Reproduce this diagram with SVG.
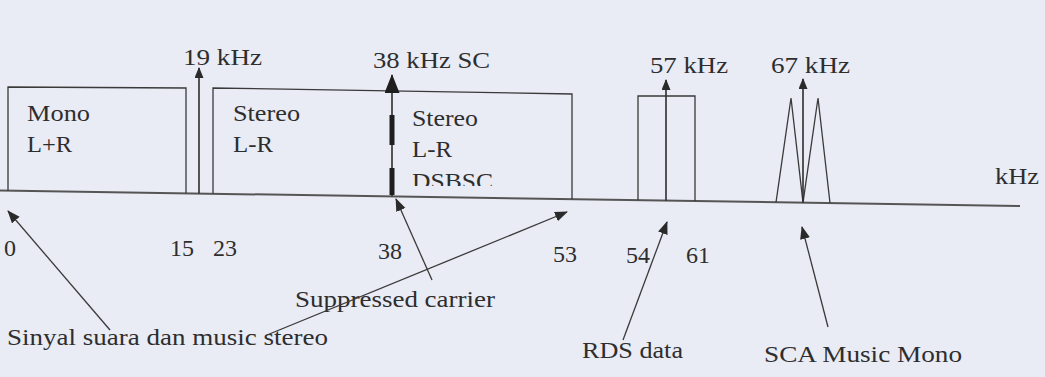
<svg xmlns="http://www.w3.org/2000/svg" width="1045" height="377" viewBox="0 0 1045 377" font-family="'Liberation Serif', 'Times New Roman', 'DejaVu Serif', serif" font-size="24">
<style>
.t{font-family:'Liberation Serif','Times New Roman','DejaVu Serif',serif;font-size:24px;fill:#2e2e2e}
.ln{stroke:#3a3a3a;stroke-width:1.3;fill:none}
.ax{stroke:#555;stroke-width:2;fill:none}
.spk{stroke:#2e2e2e;stroke-width:1.6;fill:none}
.ptr{stroke:#3a3a3a;stroke-width:1.3;fill:none;marker-end:url(#ah)}
</style>
<defs>
<marker id="ah" markerUnits="userSpaceOnUse" markerWidth="14" markerHeight="12" refX="12" refY="5" orient="auto">
<path d="M0,0 L13,5 L0,10 Z" fill="#2a2a2a"/>
</marker>
<marker id="ahs" markerUnits="userSpaceOnUse" markerWidth="12" markerHeight="10" refX="10" refY="4.5" orient="auto">
<path d="M0,0 L11,4.5 L0,9 Z" fill="#2a2a2a"/>
</marker>
<marker id="ahb" markerUnits="userSpaceOnUse" markerWidth="20" markerHeight="16" refX="18" refY="7.5" orient="auto">
<path d="M0,0 L19,7.5 L0,15 Z" fill="#1e1e1e"/>
</marker>
<clipPath id="cut"><rect x="400" y="160" width="120" height="26"/></clipPath>
</defs>
<rect width="1045" height="377" fill="#e9ebf5"/>

<g id="axis">
<line class="ax" x1="0" y1="190.5" x2="1020" y2="206"/>
<text class="t" x="995" y="184" textLength="44" lengthAdjust="spacingAndGlyphs">kHz</text>
</g>

<g id="mono">
<polyline class="ln" points="8,190.6 8,87 186,88 186,193.3"/>
<text class="t" x="27" y="121" textLength="63" lengthAdjust="spacingAndGlyphs">Mono</text>
<text class="t" x="27" y="152" textLength="45" lengthAdjust="spacingAndGlyphs">L+R</text>
</g>

<g id="pilot19">
<line class="spk" x1="199" y1="193.5" x2="199" y2="68" marker-end="url(#ahs)"/>
<text class="t" x="183" y="65" textLength="79" lengthAdjust="spacingAndGlyphs">19 kHz</text>
</g>

<g id="stereo">
<polyline class="ln" points="213,193.7 213,88 572,94 572,199.2"/>
<text class="t" x="233" y="121" textLength="67" lengthAdjust="spacingAndGlyphs">Stereo</text>
<text class="t" x="233" y="152" textLength="40" lengthAdjust="spacingAndGlyphs">L-R</text>
</g>

<g id="sc38">
<line class="spk" x1="392" y1="196.5" x2="392" y2="75" marker-end="url(#ahb)"/>
<line stroke="#1e1e1e" stroke-width="5" x1="392" y1="115" x2="392" y2="145"/>
<line stroke="#1e1e1e" stroke-width="5" x1="392" y1="168" x2="392" y2="195"/>
<text class="t" x="373" y="68" textLength="117" lengthAdjust="spacingAndGlyphs">38 kHz SC</text>
</g>

<g id="dsbsc">
<text class="t" x="412" y="126" textLength="66" lengthAdjust="spacingAndGlyphs">Stereo</text>
<text class="t" x="412" y="157" textLength="40" lengthAdjust="spacingAndGlyphs">L-R</text>
<text class="t" x="412" y="189" textLength="81" lengthAdjust="spacingAndGlyphs" clip-path="url(#cut)">DSBSC</text>
</g>

<g id="rds">
<polyline class="ln" points="638,200.4 638,96 695,96 695,201.3"/>
<line class="spk" x1="666" y1="200.8" x2="666" y2="80" marker-end="url(#ahs)"/>
<text class="t" x="650" y="73" textLength="78" lengthAdjust="spacingAndGlyphs">57 kHz</text>
</g>

<g id="sca">
<polyline class="ln" points="776,202.3 791,98 803,202.6 818,98 830,203"/>
<line class="spk" x1="803" y1="202.6" x2="803" y2="79" marker-end="url(#ahs)"/>
<text class="t" x="771" y="73" textLength="79" lengthAdjust="spacingAndGlyphs">67 kHz</text>
</g>

<g id="ticks">
<text class="t" x="4" y="256">0</text>
<text class="t" x="170" y="256">15</text>
<text class="t" x="213" y="256">23</text>
<text class="t" x="378" y="259">38</text>
<text class="t" x="553" y="262">53</text>
<text class="t" x="626" y="263">54</text>
<text class="t" x="686" y="263">61</text>
</g>

<g id="labels">
<text class="t" x="295" y="307" textLength="200" lengthAdjust="spacingAndGlyphs">Suppressed carrier</text>
<text class="t" x="7" y="345" textLength="321" lengthAdjust="spacingAndGlyphs">Sinyal suara dan music stereo</text>
<text class="t" x="582" y="358" textLength="101" lengthAdjust="spacingAndGlyphs">RDS data</text>
<text class="t" x="764" y="362" textLength="198" lengthAdjust="spacingAndGlyphs">SCA Music Mono</text>
</g>

<g id="connectors">
<line class="ptr" x1="110" y1="330" x2="8" y2="211"/>
<line class="ptr" x1="267" y1="335" x2="567" y2="212"/>
<line class="ptr" x1="432" y1="280" x2="396" y2="199"/>
<line class="ptr" x1="623" y1="340" x2="667" y2="222"/>
<line class="ptr" x1="828" y1="327" x2="802" y2="227"/>
</g>
</svg>
